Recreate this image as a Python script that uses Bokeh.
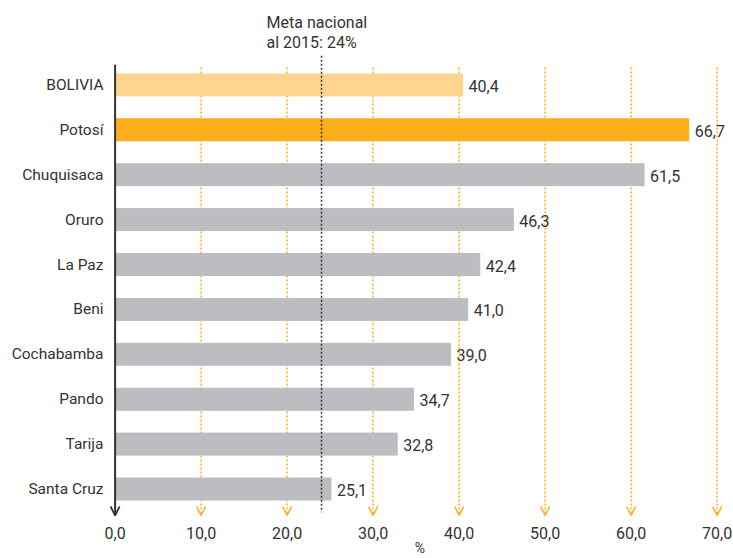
from bokeh.plotting import figure
from bokeh.models import Range1d, FixedTicker, ColumnDataSource, Arrow, OpenHead, Label
from bokeh.core.properties import value
from bokeh.embed import file_html
from bokeh.resources import INLINE

# ---- data ----
categories = ["BOLIVIA", "Potosí", "Chuquisaca", "Oruro", "La Paz", "Beni",
              "Cochabamba", "Pando", "Tarija", "Santa Cruz"]
values = [40.4, 66.7, 61.5, 46.3, 42.4, 41.0, 39.0, 34.7, 32.8, 25.1]
x_ticks = [0, 10, 20, 30, 40, 50, 60, 70]
x_tick_labels = ["0,0", "10,0", "20,0", "30,0", "40,0", "50,0", "60,0", "70,0"]
meta_value = 24
meta_text = ["Meta nacional", "al 2015: 24%"]
axis_unit = "%"

# ---- styles ----
FONT = "Roboto"
TXT = "#333333"
ORANGE = "#F9AE1A"
LIGHT = "#FDD590"
GREY = "#BCBDC0"

n = len(categories)
ypos = [n - 1 - i for i in range(n)]
def color_for(c):
    if c == "BOLIVIA":
        return LIGHT
    if c == "Potosí":
        return ORANGE
    return GREY
colors = [color_for(c) for c in categories]
labels = [f"{v:.1f}".replace(".", ",") for v in values]

src = ColumnDataSource(dict(y=ypos, v=values, c=colors, lab=labels))

p = figure(width=733, height=558, output_backend="svg", toolbar_location=None,
           x_range=Range1d(-1.0, 71.9), y_range=Range1d(-0.657, 10.88))
p.min_border_left = 106
p.min_border_right = 0
p.min_border_top = 0
p.min_border_bottom = 40
p.outline_line_color = None
p.grid.visible = False
p.background_fill_color = "white"
p.border_fill_color = "white"

# orange dotted guide arrows (behind bars)
y_top_guides = 9.39
y_tip = -0.59
for t in x_ticks[1:]:
    p.add_layout(Arrow(end=OpenHead(size=9, line_color=ORANGE, line_width=1.5),
                       x_start=t, y_start=y_top_guides, x_end=t, y_end=y_tip,
                       line_color=ORANGE, line_width=1.5, line_dash="2 2",
                       level="underlay"))

p.hbar(y="y", right="v", left=0, height=0.49, color="c", source=src)

p.text(x="v", y="y", text="lab", source=src, x_offset=6, y_offset=1,
       text_font=value(FONT), text_font_size="16px", text_color=TXT,
       text_baseline="middle", text_align="left")

# black y-axis arrow
p.add_layout(Arrow(end=OpenHead(size=9, line_color=TXT, line_width=1.8),
                   x_start=0, y_start=9.45, x_end=0, y_end=y_tip,
                   line_color=TXT, line_width=2))

# meta line
p.segment(x0=[meta_value], x1=[meta_value], y0=[9.65], y1=[-0.52],
          line_color=TXT, line_width=1.5, line_dash="2 2")
p.add_layout(Label(x=meta_value, y=10.39, x_offset=-55, text=meta_text[0],
                   text_font=FONT, text_font_size="16px", text_color=TXT,
                   text_baseline="middle", text_align="left"))
p.add_layout(Label(x=meta_value, y=9.94, x_offset=-55, text=meta_text[1],
                   text_font=FONT, text_font_size="16px", text_color=TXT,
                   text_baseline="middle", text_align="left"))

# axes
xa = p.xaxis[0]
xa.ticker = FixedTicker(ticks=x_ticks)
xa.major_label_overrides = {t: l for t, l in zip(x_ticks, x_tick_labels)}
xa.axis_line_color = None
xa.major_tick_line_color = None
xa.minor_tick_line_color = None
xa.major_label_standoff = 2
xa.major_label_text_font = FONT
xa.major_label_text_font_size = "16px"
xa.major_label_text_color = TXT
xa.axis_label = axis_unit
xa.axis_label_standoff = -2
xa.axis_label_text_font = FONT
xa.axis_label_text_font_size = "14px"
xa.axis_label_text_font_style = "normal"
xa.axis_label_text_color = TXT

ya = p.yaxis[0]
ya.ticker = FixedTicker(ticks=ypos)
ya.major_label_overrides = {y: c for y, c in zip(ypos, categories)}
ya.axis_line_color = None
ya.major_tick_line_color = None
ya.minor_tick_line_color = None
ya.major_label_standoff = -3
ya.major_label_text_font = FONT
ya.major_label_text_font_size = "15.5px"
ya.major_label_text_color = TXT

open("out.html", "w").write(file_html(p, INLINE))
